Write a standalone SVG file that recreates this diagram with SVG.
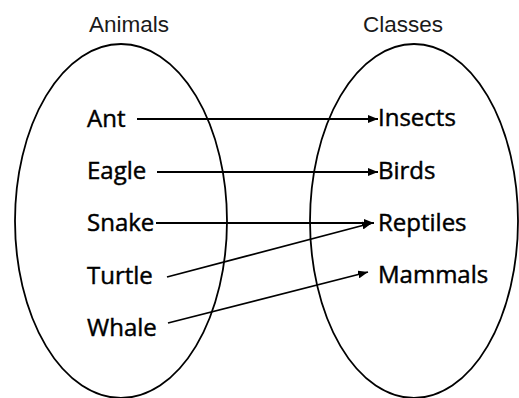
<svg xmlns="http://www.w3.org/2000/svg" width="519" height="398" viewBox="0 0 519 398">
<style>
.set{fill:none;stroke:#000;stroke-width:1.8}
.title{font-family:"Liberation Sans",Arial,sans-serif;font-size:22.5px;fill:#1a1a1a}
.lbl{font-family:"Open Sans","Noto Sans",sans-serif;font-size:24px;fill:#000;stroke:#000;stroke-width:0.45}
.conn line{stroke:#000;stroke-width:1.8}
</style>
<defs>
<marker id="ah" viewBox="0 0 10 8" refX="10" refY="4" markerWidth="10" markerHeight="8" markerUnits="userSpaceOnUse" orient="auto">
<path d="M0,0 L10,4 L0,8 Z" fill="#000"/>
</marker>
</defs>
<g id="animals">
<ellipse class="set" cx="121" cy="221" rx="106" ry="177"/>
<text class="title" x="129" y="32" text-anchor="middle">Animals</text>
</g>
<g id="classes">
<ellipse class="set" cx="414" cy="221" rx="104" ry="177"/>
<text class="title" x="403" y="32" text-anchor="middle">Classes</text>
</g>
<g id="ant"><text class="lbl" x="87" y="127">Ant</text></g>
<g id="eagle"><text class="lbl" x="87" y="179">Eagle</text></g>
<g id="snake"><text class="lbl" x="87" y="231">Snake</text></g>
<g id="turtle"><text class="lbl" x="87" y="284">Turtle</text></g>
<g id="whale"><text class="lbl" x="87" y="336">Whale</text></g>
<g id="insects"><text class="lbl" x="378" y="126">Insects</text></g>
<g id="birds"><text class="lbl" x="378" y="179">Birds</text></g>
<g id="reptiles"><text class="lbl" x="378" y="231">Reptiles</text></g>
<g id="mammals"><text class="lbl" x="378" y="283">Mammals</text></g>
<g id="connectors" class="conn">
<line x1="137" y1="119" x2="378" y2="119" marker-end="url(#ah)"/>
<line x1="157" y1="172" x2="378" y2="172" marker-end="url(#ah)"/>
<line x1="156" y1="223" x2="374" y2="223" marker-end="url(#ah)"/>
<line x1="167" y1="277" x2="372" y2="223" marker-end="url(#ah)"/>
<line x1="168" y1="323" x2="368" y2="272" marker-end="url(#ah)"/>
</g>
</svg>
